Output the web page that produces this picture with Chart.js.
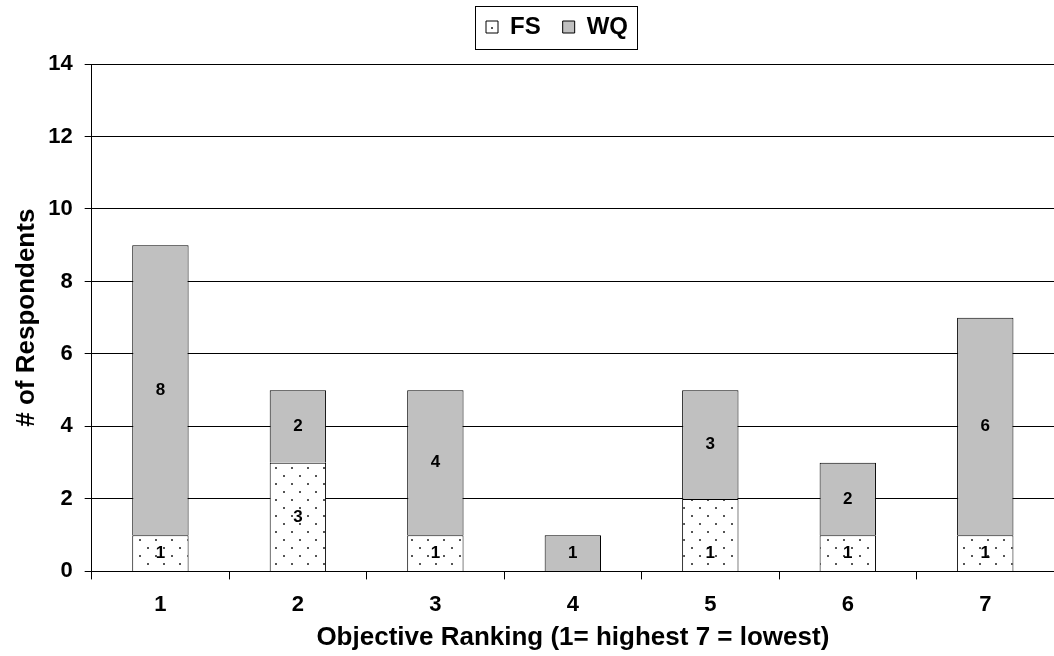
<!DOCTYPE html>
<html>
<head>
<meta charset="utf-8">
<script src="https://cdn.jsdelivr.net/npm/chart.js@4"></script>
<style>
  body { margin: 0; background: #fff; }
  #wrap { width: 1054px; height: 656px; }
</style>
</head>
<body>
<div id="wrap"><canvas id="canvas" width="1054" height="656"></canvas></div>
<script>
const labels = ['1', '2', '3', '4', '5', '6', '7'];
const fsValues = [1, 3, 1, 0, 2, 1, 1];
const wqValues = [8, 2, 4, 1, 3, 2, 6];
// value labels as printed on the original chart
const fsLabels = [1, 3, 1, null, 1, 1, 1];
const wqLabels = [8, 2, 4, 1, 3, 2, 6];
const yTicks = [0, 2, 4, 6, 8, 10, 12, 14];

const FONT = '"Liberation Sans", Arial, sans-serif';

// dotted fill used for FS
function makeDots() {
    const c = document.createElement('canvas');
    c.width = 16; c.height = 16;
    const g = c.getContext('2d');
    g.fillStyle = '#fff';
    g.fillRect(0, 0, 16, 16);
    g.fillStyle = '#555';
    g.fillRect(3, 3, 2, 2);
    g.fillRect(11, 11, 2, 2);
    return g.createPattern(c, 'repeat');
}
const dots = makeDots();

const barLabels = {
    id: 'barLabels',
    afterDatasetsDraw(chart) {
        const ctx = chart.ctx;
        const y = chart.scales.y;
        ctx.save();
        ctx.font = 'bold 17px ' + FONT;
        ctx.fillStyle = '#000';
        ctx.textAlign = 'center';
        ctx.textBaseline = 'middle';
        const metaFs = chart.getDatasetMeta(0);
        const metaWq = chart.getDatasetMeta(1);
        labels.forEach(function (l, i) {
            if (fsLabels[i] != null) {
                ctx.fillText(String(fsLabels[i]), metaFs.data[i].x, y.getPixelForValue(fsLabels[i] / 2));
            }
            if (wqLabels[i] != null) {
                ctx.fillText(String(wqLabels[i]), metaWq.data[i].x, y.getPixelForValue(fsValues[i] + wqValues[i] / 2));
            }
        });
        ctx.restore();
    }
};

// boxed legend, a bit off centre and with extra room below it
const legendBox = {
    id: 'legendBox',
    beforeInit(chart) {
        const legend = chart.legend;
        const fit = legend.fit;
        legend.fit = function () {
            fit.call(this);
            this.height += 15;
        };
    },
    afterLayout(chart) {
        chart.legend.left += 26;
        chart.legend.right += 26;
    },
    afterDraw(chart) {
        const boxes = chart.legend.legendHitBoxes;
        if (!boxes || !boxes.length) return;
        let l = Infinity, r = -Infinity, t = Infinity, b = -Infinity;
        boxes.forEach(function (h) {
            l = Math.min(l, h.left); r = Math.max(r, h.left + h.width);
            t = Math.min(t, h.top); b = Math.max(b, h.top + h.height);
        });
        const ctx = chart.ctx;
        ctx.save();
        ctx.strokeStyle = '#000';
        ctx.lineWidth = 1;
        ctx.strokeRect(Math.round(l - 11) + 0.5, Math.round(t - 9) + 0.5, Math.round(r - l + 20), Math.round(b - t + 19));
        ctx.restore();
    }
};

const data = {
    labels: labels,
    datasets: [
        {
            label: 'FS',
            data: fsValues,
            backgroundColor: dots,
            borderColor: '#000',
            borderWidth: 1,
            barPercentage: 0.41,
            categoryPercentage: 1,
        },
        {
            label: 'WQ',
            data: wqValues,
            backgroundColor: '#c0c0c0',
            borderColor: '#000',
            borderWidth: 1,
            barPercentage: 0.41,
            categoryPercentage: 1,
        },
    ],
};

const config = {
    type: 'bar',
    data: data,
    plugins: [barLabels, legendBox],
    options: {
        responsive: false,
        animation: false,
        layout: { padding: { left: 0, right: -8, top: -7, bottom: 3 } },
        plugins: {
            tooltip: { enabled: false },
            legend: {
                position: 'top',
                align: 'center',
                labels: {
                    color: '#000',
                    font: { family: FONT, size: 24, weight: 'bold' },
                    boxWidth: 12,
                    boxHeight: 12,
                    padding: 22,
                },
            },
        },
        scales: {
            x: {
                stacked: true,
                grid: { display: true, drawOnChartArea: false, offset: true, color: '#000', tickLength: 8 },
                border: { color: '#000' },
                ticks: { color: '#000', font: { family: FONT, size: 22, weight: 'bold' }, padding: 12 },
                title: {
                    display: true,
                    text: 'Objective Ranking (1= highest 7 = lowest)',
                    color: '#000',
                    font: { family: FONT, size: 26, weight: 'bold' },
                    padding: { top: -8, bottom: 0 },
                },
            },
            y: {
                stacked: true,
                min: 0,
                max: 14,
                afterBuildTicks(axis) {
                    axis.ticks = yTicks.map(function (v) { return { value: v }; });
                },
                grid: { color: '#000', tickLength: 7 },
                border: { color: '#000' },
                ticks: { color: '#000', font: { family: FONT, size: 22, weight: 'bold' }, padding: 12 },
                title: {
                    display: true,
                    text: '# of Respondents',
                    color: '#000',
                    font: { family: FONT, size: 26, weight: 'bold' },
                    padding: { top: 11, bottom: -6 },
                },
            },
        },
    },
};

const canvas = document.getElementById('canvas');
const chart = new Chart(canvas, config);
</script>
</body>
</html>
